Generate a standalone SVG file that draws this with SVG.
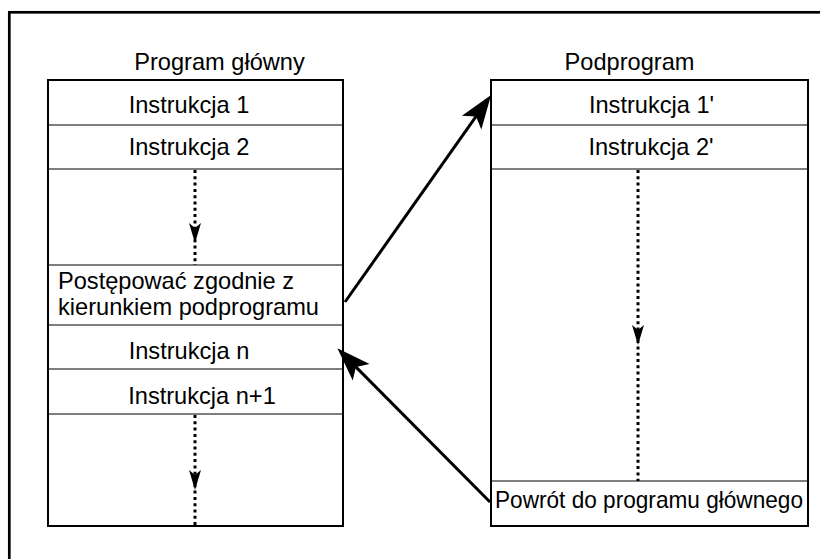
<svg xmlns="http://www.w3.org/2000/svg" width="820" height="559" viewBox="0 0 820 559">
  <style>
    .frame { fill: none; stroke: #000; stroke-width: 2.7; }
    .box { fill: #fff; stroke: #000; stroke-width: 2; }
    .div { stroke: #000; stroke-width: 1.2; }
    .lbl { font-family: "Liberation Sans", Arial, sans-serif; font-size: 23.6px; fill: #000; }
    .mid { text-anchor: middle; }
    .dots { stroke: #000; stroke-width: 3; stroke-dasharray: 3 3.3; fill: none; }
    .link { stroke: #000; stroke-width: 3; fill: none; }
  </style>
  <defs>
    <marker id="arrow" markerUnits="userSpaceOnUse" markerWidth="50" markerHeight="50" viewBox="-20 -15 40 30" refX="0" refY="0" orient="auto" overflow="visible">
      <path d="M15,0 L-12,-9.5 L-6,0 L-12,9.5 Z" fill="#000"/>
    </marker>
    <path id="down-head" d="M0,0 L-6,-20 L0,-15 L6,-20 Z" fill="#000"/>
  </defs>

  <rect width="820" height="559" fill="#fff"/>
  <rect class="frame" x="9.3" y="12.3" width="900" height="700"/>

  <!-- main program column -->
  <g id="main-program">
    <text class="lbl mid" x="219.5" y="70">Program główny</text>
    <rect class="box" x="48" y="80" width="295" height="446"/>
    <line class="div" x1="48" y1="125" x2="343" y2="125"/>
    <line class="div" x1="48" y1="169" x2="343" y2="169"/>
    <line class="div" x1="48" y1="265" x2="343" y2="265"/>
    <line class="div" x1="48" y1="325" x2="343" y2="325"/>
    <line class="div" x1="48" y1="369" x2="343" y2="369"/>
    <line class="div" x1="48" y1="414" x2="343" y2="414"/>
  </g>
  <g id="main-instr-1"><text class="lbl mid" x="189" y="113">Instrukcja 1</text></g>
  <g id="main-instr-2"><text class="lbl mid" x="189" y="155">Instrukcja 2</text></g>
  <g id="main-call">
    <text class="lbl" x="58" y="289">Postępować zgodnie z</text>
    <text class="lbl" x="58" y="315">kierunkiem podprogramu</text>
  </g>
  <g id="main-instr-n"><text class="lbl mid" x="189" y="359">Instrukcja n</text></g>
  <g id="main-instr-n1"><text class="lbl mid" x="202" y="404">Instrukcja n+1</text></g>

  <!-- subroutine column -->
  <g id="subprogram">
    <text class="lbl mid" x="629.5" y="70">Podprogram</text>
    <rect class="box" x="491" y="80" width="317" height="446"/>
    <line class="div" x1="491" y1="125" x2="808" y2="125"/>
    <line class="div" x1="491" y1="169" x2="808" y2="169"/>
    <line class="div" x1="491" y1="481" x2="808" y2="481"/>
  </g>
  <g id="sub-instr-1"><text class="lbl mid" x="651.5" y="113">Instrukcja 1'</text></g>
  <g id="sub-instr-2"><text class="lbl mid" x="651" y="155">Instrukcja 2'</text></g>
  <g id="sub-return"><text class="lbl mid" x="649" y="508" textLength="308" lengthAdjust="spacingAndGlyphs">Powrót do programu głównego</text></g>

  <!-- flow connectors -->
  <g id="connectors">
    <line class="dots" x1="195" y1="170" x2="195" y2="265"/>
    <use href="#down-head" x="195" y="243"/>
    <line class="dots" x1="195" y1="415" x2="195" y2="526"/>
    <use href="#down-head" x="195" y="490"/>
    <line class="dots" x1="638" y1="170" x2="638" y2="481"/>
    <use href="#down-head" x="638" y="345"/>

    <line class="link" x1="345" y1="302" x2="480.3" y2="110.3" marker-end="url(#arrow)"/>
    <line class="link" x1="490" y1="502" x2="350.6" y2="361.6" marker-end="url(#arrow)"/>
  </g>
</svg>
